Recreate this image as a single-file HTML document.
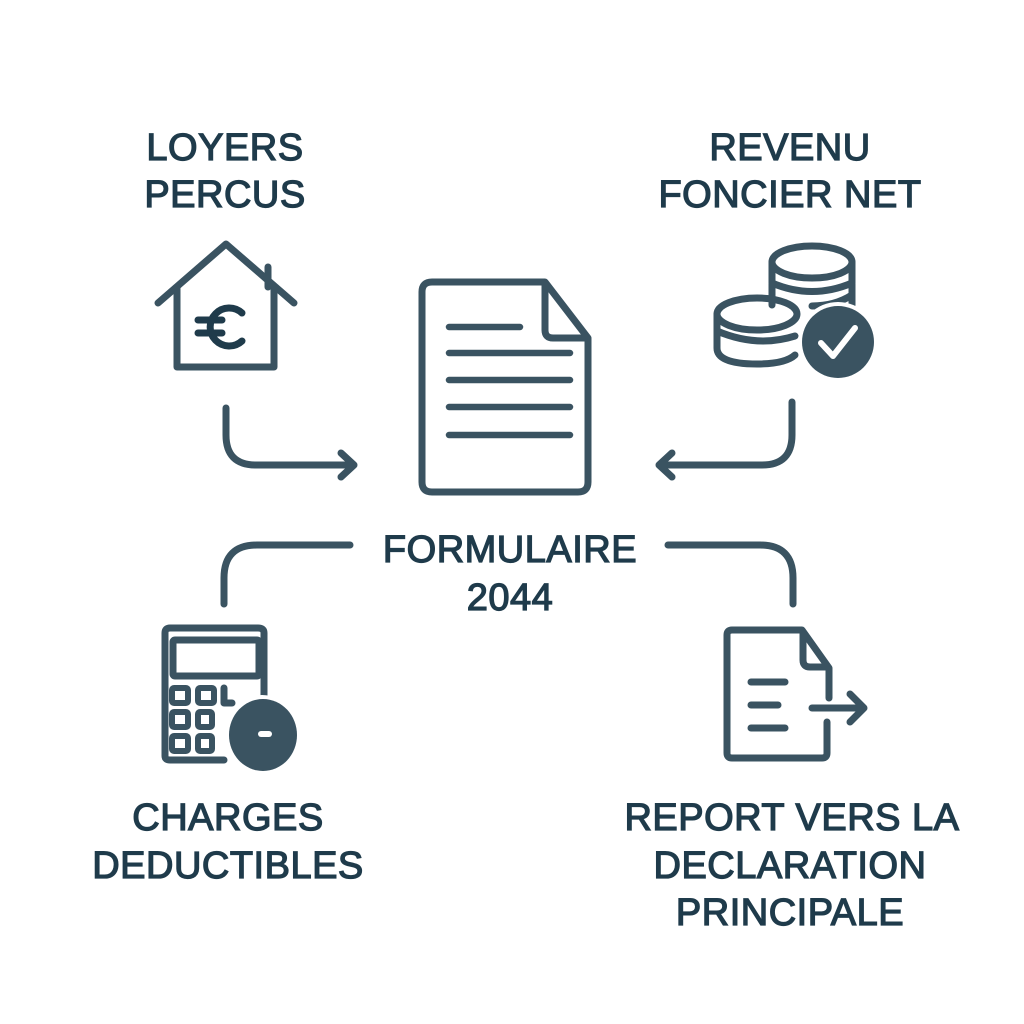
<!DOCTYPE html>
<html><head><meta charset="utf-8"><style>
html,body{margin:0;padding:0;background:#fff;}
svg{display:block}
text{font-family:"Liberation Sans",sans-serif;font-weight:normal;fill:#1f3b4b;stroke:#1f3b4b;stroke-width:1.3px;text-anchor:middle;font-size:38px;letter-spacing:0.5px}
</style></head><body>
<svg width="1024" height="1024" viewBox="0 0 1024 1024">
<rect width="1024" height="1024" fill="#fff"/>
<text x="225" y="160">LOYERS</text>
<text x="225" y="207">PERCUS</text>
<text x="790" y="160">REVENU</text>
<text x="790" y="207">FONCIER NET</text>
<text x="510" y="562">FORMULAIRE</text>
<text x="510" y="610">2044</text>
<text x="228" y="830">CHARGES</text>
<text x="228" y="878">DEDUCTIBLES</text>
<text x="792" y="830">REPORT VERS LA</text>
<text x="790" y="878">DECLARATION</text>
<text x="790" y="925">PRINCIPALE</text>
<g fill="none" stroke="#3a5361" stroke-width="7" stroke-linecap="round" stroke-linejoin="round">
<!-- house -->
<path d="M158 303 L226 244 L294 303"/>
<path d="M177 288 V367 H274 V288"/>
<path d="M268 267 V287"/>
<!-- euro -->
<path d="M242 313 A19 19 0 1 0 242 341" stroke="#1f3b4b"/>
<path d="M198 320 H222 M198 333 H222" stroke="#1f3b4b"/>
<!-- doc -->
<path d="M545 282 H432 Q422 282 422 292 V482 Q422 492 432 492 H578 Q588 492 588 482 V338 Z"/>
<path d="M545 284 V330 Q545 338 553 338 H586"/>
<path d="M449 327 H520 M449 353 H570 M449 380 H570 M449 407 H570 M449 435 H570" stroke-width="6.5"/>
<!-- coins -->
<ellipse cx="812" cy="262" rx="40" ry="16"/>
<path d="M772 262 V305 M852 262 V305 M772 283 Q812 300 852 283"/>
<path d="M852 295 Q835 306 812 306"/>
<ellipse cx="757" cy="314" rx="40" ry="16"/>
<path d="M717 314 V348 Q717 364 757 364 Q785 364 795 355 M717 331 Q757 348 795 336"/>
<!-- arrows -->
<path d="M226 408 V435 Q226 465 256 465 H352 M341 453 L354 465 L341 477"/>
<path d="M792 402 V435 Q792 465 762 465 H660 M672 453 L659 465 L672 477"/>
<path d="M224 604 V578 Q224 545 257 545 H350"/>
<path d="M668 545 H760 Q793 545 793 578 V604"/>
<!-- calculator -->
<path d="M264 700 V633 Q264 628 258 628 H170 Q165 628 165 633 V756 Q165 760 170 760 H224"/>
<rect x="173" y="640" width="86" height="36" rx="2"/>
<rect x="172" y="688" width="16" height="15" rx="2" stroke-width="6"/>
<rect x="198" y="688" width="16" height="15" rx="2" stroke-width="6"/>
<rect x="172" y="712" width="16" height="15" rx="2" stroke-width="6"/>
<rect x="198" y="712" width="14" height="15" rx="2" stroke-width="6"/>
<rect x="172" y="736" width="16" height="15" rx="2" stroke-width="6"/>
<rect x="198" y="736" width="14" height="15" rx="2" stroke-width="6"/>
<path d="M224 688 V703 H232"/>
<!-- report doc -->
<path d="M829 698 V668 L802 630 H732 Q727 630 727 635 V753 Q727 758 732 758 H822 Q827 758 827 753 V722"/>
<path d="M803 633 V660 Q803 667 810 667 H827"/>
<path d="M751 682 H785 M751 705 H778 M751 728 H785"/>
<path d="M812 708 H862 M850 694 L864 708 L850 722"/>
</g>
<!-- filled circles -->
<circle cx="838" cy="342" r="40" fill="#fff"/>
<circle cx="838" cy="342" r="36" fill="#3a5361"/>
<path d="M821 343 L833 356 L855 328" fill="none" stroke="#fff" stroke-width="6" stroke-linecap="round" stroke-linejoin="round"/>
<ellipse cx="262" cy="735" rx="40" ry="40" fill="#fff"/>
<ellipse cx="263" cy="735" rx="34" ry="36" fill="#3a5361"/>
<rect x="258" y="731" width="14" height="6" rx="3" fill="#fff"/>
</svg>
</body></html>
